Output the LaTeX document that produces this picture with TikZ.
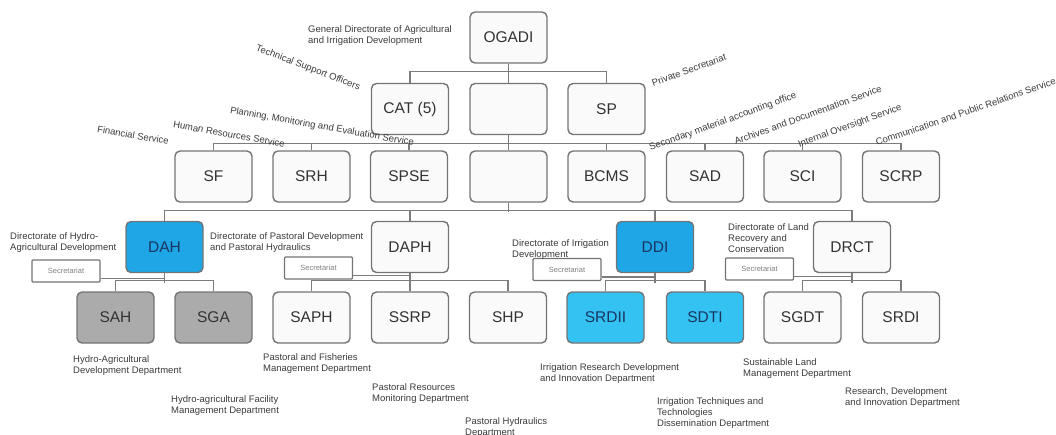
\documentclass[tikz,border=0pt]{standalone}
\usepackage{fontspec}
\setmainfont{Liberation Sans}
\definecolor{boxline}{HTML}{747474}
\definecolor{boxfill}{HTML}{FAFAFA}
\definecolor{boxtext}{HTML}{333333}
\definecolor{dblue}{HTML}{1EA6E6}
\definecolor{lblue}{HTML}{33C2F2}
\definecolor{navy}{HTML}{1A3560}
\definecolor{gbox}{HTML}{ABABAB}
\definecolor{lbltext}{HTML}{3A3A3A}
\definecolor{connc}{HTML}{7C7C7C}
\tikzset{
  box/.style={draw=boxline, line width=1.4pt, rounded corners=5pt, fill=boxfill,
    minimum width=77pt, minimum height=51pt, inner sep=0pt,
    font=\fontsize{15.5}{17}\selectfont, text=boxtext},
  bluebox/.style={box, fill=dblue, text=navy},
  cyanbox/.style={box, fill=lblue, text=navy},
  graybox/.style={box, fill=gbox, text=boxtext},
  lbl/.style={font=\fontsize{9.5}{11}\selectfont, text=lbltext, align=left, inner sep=0pt, anchor=north west},
  rlbl/.style={font=\fontsize{9.5}{11}\selectfont, text=lbltext, inner sep=0pt},
  secbox/.style={draw=boxline, line width=1.1pt, rounded corners=1pt, fill=white,
    minimum width=68pt, minimum height=22pt, inner sep=0pt,
    font=\fontsize{7.5}{9}\selectfont, text=gray},
  conn/.style={draw=connc, line width=1.3pt}
}
\begin{document}
\begin{tikzpicture}[x=1pt,y=-1pt]
\useasboundingbox (0,0) rectangle (1056,434);
% row 0
\node[box] (ogadi) at (508.5,37.5) {OGADI};
% row 1
\node[box] (cat) at (410,109) {CAT (5)};
\node[box] (blanka) at (508.5,109) {};
\node[box] (sp) at (606.5,109) {SP};
% row 2
\node[box] (sf) at (213.5,176.5) {SF};
\node[box] (srh) at (311.5,176.5) {SRH};
\node[box] (spse) at (409,176.5) {SPSE};
\node[box] (blankb) at (508.5,176.5) {};
\node[box] (bcms) at (606.5,176.5) {BCMS};
\node[box] (sad) at (705,176.5) {SAD};
\node[box] (sci) at (802.5,176.5) {SCI};
\node[box] (scrp) at (901,176.5) {SCRP};
% row 3
\node[bluebox] (dah) at (164.5,247) {DAH};
\node[box] (daph) at (410,247) {DAPH};
\node[bluebox] (ddi) at (655,247) {DDI};
\node[box] (drct) at (852,247) {DRCT};
% row 4
\node[graybox] (sah) at (115.5,317.5) {SAH};
\node[graybox] (sga) at (213.5,317.5) {SGA};
\node[box] (saph) at (311.5,317.5) {SAPH};
\node[box] (ssrp) at (410,317.5) {SSRP};
\node[box] (shp) at (508,317.5) {SHP};
\node[cyanbox] (srdii) at (605.5,317.5) {SRDII};
\node[cyanbox] (sdti) at (705,317.5) {SDTI};
\node[box] (sgdt) at (802.5,317.5) {SGDT};
\node[box] (srdi) at (901,317.5) {SRDI};
% secretariat boxes
\node[secbox] (seca) at (66,271) {Secretariat};
\node[secbox] (secb) at (318.5,268) {Secretariat};
\node[secbox] (secc) at (567,269.5) {Secretariat};
\node[secbox] (secd) at (759.5,269) {Secretariat};

% connectors
\draw[conn] (cat.north) -- ++(0,-11) -| (sp.north);
\draw[conn] (ogadi.south) -- (blanka.north);
\draw[conn] (blanka.south) -- (blankb.north);
\draw[conn] (sf.north) -- ++(0,-7) -| (scrp.north);
\foreach \n in {srh,spse,bcms,sad,sci} \draw[conn] (\n.north) -- ++(0,-7);
\draw[conn] (dah.north) -- ++(0,-10) -| (drct.north);
\draw[conn] (blankb.south) -- ++(0,9);
\draw[conn] (daph.north) -- ++(0,-10);
\draw[conn] (ddi.north) -- ++(0,-10);
% children
\draw[conn] (sah.north) -- ++(0,-11) -| (sga.north);
\draw[conn] (dah.south) -- ++(0,10);
\draw[conn] (saph.north) -- ++(0,-11) -| (shp.north);
\draw[conn] (daph.south) -- (ssrp.north);
\draw[conn] (srdii.north) -- ++(0,-11) -| (sdti.north);
\draw[conn] (ddi.south) -- ++(0,10);
\draw[conn] (sgdt.north) -- ++(0,-11) -| (srdi.north);
\draw[conn] (drct.south) -- ++(0,10);
% secretariat links
\path ([yshift=4pt]seca.south east) coordinate (sa);
\draw[conn] (sa) -- (sa -| dah.south);
\path ([yshift=4pt]secb.south east) coordinate (sb);
\draw[conn] (sb) -- (sb -| daph.south);
\path ([yshift=4pt]secc.south east) coordinate (sc);
\draw[conn] (sc) -- (sc -| ddi.south);
\path ([yshift=4pt]secd.south east) coordinate (sd);
\draw[conn] (sd) -- (sd -| drct.south);

% labels
\node[lbl] (lgen) at (308,25) {General Directorate of Agricultural\\and Irrigation Development};
\node[rlbl, rotate=-21] (ltso) at (308,68) {Technical Support Officers};
\node[rlbl, rotate=20] (lps) at (689,70) {Private Secretariat};
\node[rlbl, rotate=-10] (lfs) at (133,135) {Financial Service};
\node[rlbl, rotate=-10] (lhr) at (229,134) {Human Resources Service};
\node[rlbl, rotate=-10] (lpme) at (322,127) {Planning, Monitoring and Evaluation Service};
\node[rlbl, rotate=20] (lsma) at (723,122) {Secondary material accounting office};
\node[rlbl, rotate=20] (lads) at (808,115) {Archives and Documentation Service};
\node[rlbl, rotate=20] (lios) at (850,126) {Internal Oversight Service};
\node[rlbl, rotate=19, anchor=base west] (lcpr) at (877,146) {Communication and Public Relations Service};

\node[lbl] (ldah) at (10,232) {Directorate of Hydro-\\Agricultural Development};
\node[lbl] (ldaph) at (210,232) {Directorate of Pastoral Development\\and Pastoral Hydraulics};
\node[lbl] (lddi) at (512,239) {Directorate of Irrigation\\Development};
\node[lbl] (ldrct) at (728,223) {Directorate of Land\\Recovery and\\Conservation};

\node[lbl] (lsah) at (73,355) {Hydro-Agricultural\\Development Department};
\node[lbl] (lsga) at (171,395) {Hydro-agricultural Facility\\Management Department};
\node[lbl] (lsaph) at (263,353) {Pastoral and Fisheries\\Management Department};
\node[lbl] (lssrp) at (372,383) {Pastoral Resources\\Monitoring Department};
\node[lbl] (lshp) at (465,417) {Pastoral Hydraulics\\Department};
\node[lbl] (lsrdii) at (540,363) {Irrigation Research Development\\and Innovation Department};
\node[lbl] (lsdti) at (657,397) {Irrigation Techniques and\\Technologies\\Dissemination Department};
\node[lbl] (lsgdt) at (743,358) {Sustainable Land\\Management Department};
\node[lbl] (lsrdi) at (845,387) {Research, Development\\and Innovation Department};
\end{tikzpicture}
\end{document}
